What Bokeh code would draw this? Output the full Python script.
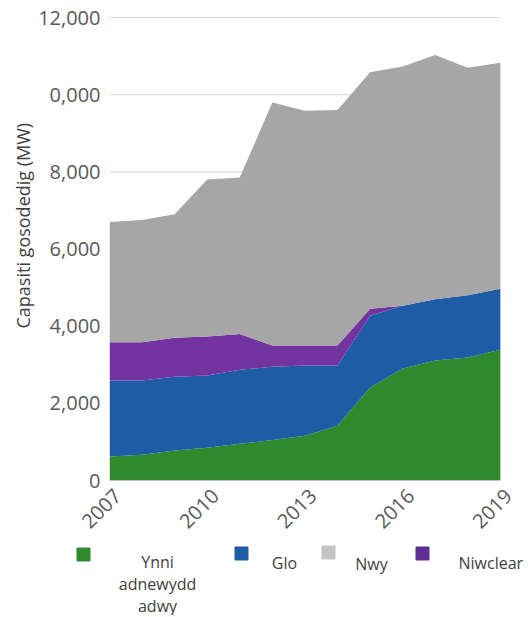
import math
from bokeh.plotting import figure
from bokeh.models import ColumnDataSource, FixedTicker, NumeralTickFormatter, Range1d, Title, LinearAxis
from bokeh.layouts import column, row
from bokeh.embed import file_html
from bokeh.resources import INLINE
from bokeh.core.properties import value

years = [2007, 2008, 2009, 2010, 2011, 2012, 2013, 2014, 2015, 2016, 2017, 2018, 2019]
renewables = [620, 670, 780, 850, 950, 1050, 1160, 1420, 2410, 2900, 3110, 3190, 3390]
coal = [1970, 1920, 1910, 1870, 1920, 1900, 1820, 1560, 1860, 1630, 1590, 1610, 1580]
nuclear = [990, 990, 1010, 1010, 930, 550, 520, 520, 180, 0, 0, 0, 0]
gas = [3120, 3170, 3200, 4070, 4050, 6300, 6080, 6100, 6130, 6200, 6330, 5900, 5860]

series_keys = ["renew", "coal", "nuclear", "gas"]
series_labels = ["Ynni\nadnewydd\nadwy", "Glo", "Nwy", "Niwclear"]
colors = {"renew": "#2f8a2c", "coal": "#1f5ca6", "nuclear": "#7434a0", "gas": "#a6a6a6"}
legend_colors = ["#2f8a2c", "#1f5ca6", "#c4c4c4", "#5e2f94"]

y_ticks = [0, 2000, 4000, 6000, 8000, 10000, 12000]
x_ticks = [2007, 2010, 2013, 2016, 2019]

FONT = "Open Sans"
LABEL_SHIFT = 0.25  # year labels sit a little right of their year, as in the reference

src = ColumnDataSource(dict(year=years, renew=renewables, coal=coal, nuclear=nuclear, gas=gas))

p = figure(width=528, height=540, output_backend="svg", toolbar_location=None,
           x_range=Range1d(years[0], years[-1] + LABEL_SHIFT), y_range=Range1d(0, 12026),
           x_axis_location=None,
           min_border_left=109, min_border_right=20, min_border_top=16, min_border_bottom=60)
p.outline_line_color = None
p.xgrid.grid_line_color = None
p.ygrid.grid_line_color = None

# horizontal gridlines spanning only the years of the data
p.segment(x0=[years[0]] * len(y_ticks), x1=[years[-1]] * len(y_ticks), y0=y_ticks, y1=y_ticks,
          line_color="#d9d9d9", line_width=1)

p.varea_stack(stackers=series_keys, x="year", source=src,
              color=[colors[k] for k in series_keys])

p.yaxis.ticker = FixedTicker(ticks=y_ticks)
p.yaxis.formatter = NumeralTickFormatter(format="0,0")
p.yaxis.major_label_overrides = {10000: "0,000"}
p.yaxis.axis_line_color = None
p.yaxis.major_tick_line_color = None
p.yaxis.minor_tick_line_color = None
p.yaxis.major_tick_out = 0
p.yaxis.major_tick_in = 0
p.yaxis.major_label_standoff = 9

p.extra_x_ranges = {"lab": Range1d(years[0] - LABEL_SHIFT, years[-1])}
xax = LinearAxis(x_range_name="lab", ticker=FixedTicker(ticks=x_ticks),
                 bounds=(years[0] - LABEL_SHIFT, years[-1] - LABEL_SHIFT))
xax.major_label_orientation = math.pi / 4
xax.axis_line_color = "#bfbfbf"
xax.major_tick_line_color = None
xax.minor_tick_line_color = None
xax.major_tick_out = 0
xax.major_tick_in = 0
xax.major_label_standoff = 12
p.add_layout(xax, "below")

for ax in (xax, p.yaxis[0]):
    ax.major_label_text_font = FONT
    ax.major_label_text_font_size = "20px"
    ax.major_label_text_color = "#595959"

p.add_layout(Title(text="Capasiti gosodedig (MW)", align="left", offset=152,
                   text_font=FONT, text_font_size="18px", text_font_style="normal",
                   text_color="#404040", standoff=2), "left")

# legend figure
lg = figure(width=528, height=75, output_backend="svg", toolbar_location=None,
            x_range=Range1d(0, 528), y_range=Range1d(75, 0),
            min_border=0, outline_line_color=None, x_axis_location=None, y_axis_location=None)
lg.grid.visible = False
sq_x = [83, 241, 328, 422]
sq_y = [14, 13, 12, 13]
lg.scatter(x=sq_x, y=sq_y, marker="square", size=13, color=legend_colors)
lab_x = [157, 284, 371, 458]
lab_y = [43, 22, 23, 22]
lab_align = ["center", "center", "center", "left"]
lg_src = ColumnDataSource(dict(x=lab_x, y=lab_y, t=series_labels, a=lab_align))
lg.text(x="x", y="y", text="t", source=lg_src, text_align="a", text_baseline="middle",
        text_font=value(FONT), text_font_size="16px", text_color="#404040",
        text_line_height=1.0)

layout = column(p, row(lg), spacing=0)
open("out.html", "w").write(file_html(layout, INLINE))
